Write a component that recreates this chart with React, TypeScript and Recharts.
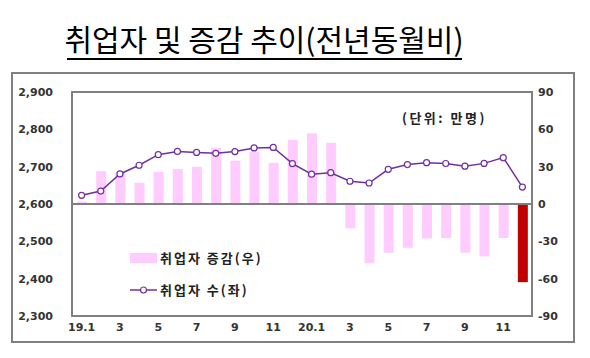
import React from 'react';
import {
  ComposedChart, Bar, Line, XAxis, YAxis, Cell, ReferenceLine,
} from 'recharts';

const monthLabels = [
  '19.1', '2', '3', '4', '5', '6', '7', '8', '9', '10', '11', '12',
  '20.1', '2', '3', '4', '5', '6', '7', '8', '9', '10', '11', '12',
];
const employedChange = [
  1.9, 26.3, 25.0, 17.1, 25.9, 28.1, 29.9, 45.2, 34.8, 41.9, 33.1, 51.6,
  56.8, 49.2, -19.5, -47.6, -39.2, -35.2, -27.7, -27.4, -39.2, -42.1, -27.3, -62.8,
];
const employedCount = [
  2623.2, 2634.6, 2680.5, 2703.8, 2732.2, 2740.8, 2738.2, 2735.8, 2740.4, 2750.2, 2751.5, 2708.2,
  2680.0, 2683.8, 2660.9, 2656.2, 2693.0, 2705.5, 2710.6, 2708.5, 2701.2, 2708.8, 2724.2, 2645.4,
];
const leftTicks = [2300, 2400, 2500, 2600, 2700, 2800, 2900];
const rightTicks = [-90, -60, -30, 0, 30, 60, 90];

const titleText = '취업자 및 증감 추이(전년동월비)';
const unitText = '(단위: 만명)';
const changeLabel = '취업자 증감(우)';
const countLabel = '취업자 수(좌)';

const data = monthLabels.map((m, i) => ({
  month: m,
  change: employedChange[i],
  count: employedCount[i],
}));

const PINK = '#FFCCFF';
const RED = '#C00000';
const PURPLE = '#7030A0';
const GRAY = '#808080';

const tickStyle = {
  fontFamily: '"DejaVu Sans", sans-serif',
  fontSize: 11,
  fontWeight: 700,
  fill: '#333',
};

const fmtComma = (v: number) => String(v).replace(/\B(?=(\d{3})+(?!\d))/g, ',');

const HollowDot = (props: any) => {
  const { cx, cy, index } = props;
  if (cx == null || cy == null) return null;
  return <circle key={`d${index}`} cx={cx} cy={cy} r={3} fill="#fff" stroke={PURPLE} strokeWidth={1.2} />;
};

export default function App() {
  return (
    <div style={{ position: 'absolute', left: 0, top: 0, width: 590, height: 358, background: '#fff', fontFamily: '"Noto Sans CJK KR", sans-serif' }}>
      <div style={{ position: 'absolute', left: 0, top: 22, width: 528, textAlign: 'center', fontSize: 30, lineHeight: '32px', color: '#000', fontFamily: '"Noto Sans CJK KR", sans-serif' }}>
        {titleText}
      </div>
      <div style={{ position: 'absolute', left: 67, top: 58, width: 395, height: 2, background: '#000' }} />
      <div style={{ position: 'absolute', left: 11, top: 72, width: 564, height: 271, border: `2px solid ${GRAY}`, boxSizing: 'border-box' }} />
      <div style={{ position: 'absolute', left: 0, top: 0 }}>
        <ComposedChart
          width={590}
          height={358}
          data={data}
          margin={{ top: 92, right: 0, bottom: 0, left: 0 }}
          barSize={10}
        >
          <XAxis
            dataKey="month"
            interval={1}
            height={42}
            axisLine={false}
            tickLine={false}
            tickMargin={1}
            tick={tickStyle}
          />
          <YAxis
            yAxisId="left"
            orientation="left"
            width={72}
            domain={[2300, 2900]}
            ticks={leftTicks}
            tickFormatter={fmtComma}
            axisLine={false}
            tickLine={false}
            tickMargin={13}
            tick={tickStyle}
            interval={0}
          />
          <YAxis
            yAxisId="right"
            orientation="right"
            width={58}
            domain={[-90, 90]}
            ticks={rightTicks}
            axisLine={false}
            tickLine={false}
            tickMargin={0}
            tick={{ ...tickStyle, textAnchor: 'start' }}
            interval={0}
          />
          <Bar dataKey="change" yAxisId="right" isAnimationActive={false}>
            {data.map((d, i) => (
              <Cell key={i} fill={i === data.length - 1 ? RED : PINK} />
            ))}
          </Bar>
          <ReferenceLine y={0} yAxisId="right" stroke={GRAY} strokeWidth={2} />
          <Line
            dataKey="count"
            yAxisId="left"
            stroke={PURPLE}
            strokeWidth={1.5}
            dot={<HollowDot />}
            activeDot={false}
            isAnimationActive={false}
          />
        </ComposedChart>
      </div>
      <div style={{ position: 'absolute', left: 71, top: 91, width: 462, height: 226, border: `2px solid ${GRAY}`, boxSizing: 'border-box', pointerEvents: 'none' }} />
      <div style={{ position: 'absolute', left: 402, top: 109, fontSize: 13, lineHeight: '18px', letterSpacing: 2.5, fontWeight: 700, color: '#222' }}>
        {unitText}
      </div>
      <div style={{ position: 'absolute', left: 130, top: 253, width: 27, height: 10, background: PINK }} />
      <div style={{ position: 'absolute', left: 160, top: 249, fontSize: 13, lineHeight: '18px', letterSpacing: 2, fontWeight: 700, color: '#222' }}>
        {changeLabel}
      </div>
      <svg style={{ position: 'absolute', left: 128, top: 283 }} width={32} height={14}>
        <line x1={2} y1={7} x2={29} y2={7} stroke={PURPLE} strokeWidth={1.5} />
        <circle cx={15.5} cy={7} r={3} fill="#fff" stroke={PURPLE} strokeWidth={1.2} />
      </svg>
      <div style={{ position: 'absolute', left: 160, top: 281, fontSize: 13, lineHeight: '18px', letterSpacing: 2, fontWeight: 700, color: '#222' }}>
        {countLabel}
      </div>
    </div>
  );
}
